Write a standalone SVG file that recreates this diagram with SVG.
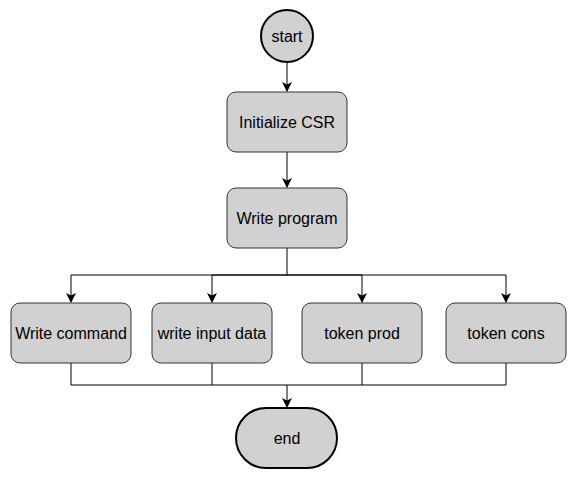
<svg xmlns="http://www.w3.org/2000/svg" width="578" height="479" viewBox="0 0 578 479">
<style>
.box{fill:#d1d1d1;stroke:#333;stroke-width:1}
.term{fill:#d1d1d1;stroke:#000;stroke-width:2}
.lbl{font-family:"Liberation Sans",Arial,sans-serif;font-size:16px;fill:#000;text-anchor:middle;dominant-baseline:central}
.edge{fill:none;stroke:#000;stroke-width:1}
</style>
<defs>
<marker id="arr" viewBox="0 0 10 10" refX="9" refY="5" markerWidth="10" markerHeight="10" markerUnits="userSpaceOnUse" orient="auto">
<path d="M0,0 L10,5 L0,10 L2.5,5 Z" fill="#000"/>
</marker>
</defs>
<rect width="578" height="479" fill="#fff"/>
<g id="connectors">
<path class="edge" d="M287,62 V91" marker-end="url(#arr)"/>
<path class="edge" d="M287,152 V187" marker-end="url(#arr)"/>
<path class="edge" d="M287,248 V275 H71 V302" marker-end="url(#arr)"/>
<path class="edge" d="M287,275 H212 V302" marker-end="url(#arr)"/>
<path class="edge" d="M287,275 H362 V302" marker-end="url(#arr)"/>
<path class="edge" d="M287,275 H506 V302" marker-end="url(#arr)"/>
<path class="edge" d="M71,363 V385 H506 V363"/>
<path class="edge" d="M212,363 V385"/>
<path class="edge" d="M362,363 V385"/>
<path class="edge" d="M287,385 V407" marker-end="url(#arr)"/>
</g>
<g id="start">
<circle class="term" cx="287" cy="36" r="26"/>
<text class="lbl" x="287" y="36">start</text>
</g>
<g id="init">
<rect class="box" x="227" y="92" width="120" height="60" rx="9"/>
<text class="lbl" x="287" y="122">Initialize CSR</text>
</g>
<g id="program">
<rect class="box" x="227" y="188" width="120" height="60" rx="9"/>
<text class="lbl" x="287" y="218">Write program</text>
</g>
<g id="command">
<rect class="box" x="11" y="303" width="120" height="60" rx="9"/>
<text class="lbl" x="71" y="333">Write command</text>
</g>
<g id="input">
<rect class="box" x="152" y="303" width="120" height="60" rx="9"/>
<text class="lbl" x="212" y="333">write input data</text>
</g>
<g id="prod">
<rect class="box" x="302" y="303" width="120" height="60" rx="9"/>
<text class="lbl" x="362" y="333">token prod</text>
</g>
<g id="cons">
<rect class="box" x="446" y="303" width="120" height="60" rx="9"/>
<text class="lbl" x="506" y="333">token cons</text>
</g>
<g id="end">
<rect class="term" x="236" y="408" width="101" height="60" rx="30"/>
<text class="lbl" x="287" y="438">end</text>
</g>
</svg>
